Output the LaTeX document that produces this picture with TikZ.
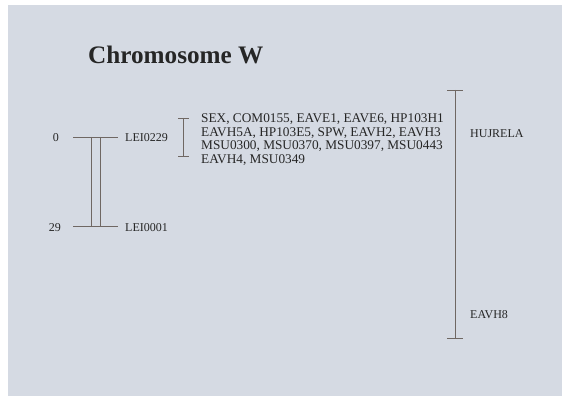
\documentclass[tikz,border=0pt]{standalone}
\usepackage{fontspec}
\setmainfont{Liberation Serif}
\definecolor{slide}{HTML}{D5DAE3}
\definecolor{mapline}{HTML}{6F6763}
\definecolor{ink}{HTML}{262626}
\newcommand*{\tick}{8}

\begin{document}
\begin{tikzpicture}
[
	x=1pt,y=-1pt,
	lbl/.style={anchor=base west,inner sep=0pt,text=ink,font=\fontsize{12}{14}\selectfont},
	cmlabel/.style={anchor=base east,inner sep=0pt,text=ink,font=\fontsize{12}{14}\selectfont},
	grplbl/.style={lbl,font=\fontsize{13.3}{15}\selectfont},
	maplink/.style={mapline,line width=0.8pt}
]

	% slide
	\useasboundingbox (0,0) rectangle (571,396);
	\fill[white] (0,0) rectangle (571,396);
	\fill[slide] (8,5) rectangle (562,396);

	% title
	\node[anchor=base west,inner sep=0pt,text=ink,font=\fontsize{25.2}{30}\selectfont\bfseries] (title) at (88,64) {Chromosome W};

	% linkage map
	\coordinate (top-l) at (73,137);
	\coordinate (top-r) at (118,137);
	\coordinate (bot-l) at (73,226);
	\coordinate (bot-r) at (118,226);
	\draw[maplink] (top-l) -- (top-r);
	\draw[maplink] (bot-l) -- (bot-r);
	\foreach \x in {91,100} {
		\draw[maplink] (\x,137) -- (\x,226);
	}
	\node[cmlabel] (p0) at (59,142) {0};
	\node[cmlabel] (p29) at (61,231) {29};
	\node[lbl] (lei0229) at (125,142) {LEI0229};
	\node[lbl] (lei0001) at (125,231) {LEI0001};

	% unlinked group
	\coordinate (grp-t) at (183,118);
	\coordinate (grp-b) at (183,156);
	\draw[maplink] (grp-t) -- (grp-b);
	\draw[maplink] ([xshift=-5]grp-t) -- ([xshift=6]grp-t);
	\draw[maplink] ([xshift=-5]grp-b) -- ([xshift=6]grp-b);
	\node[grplbl] (g1) at (201,122.5) {SEX, COM0155, EAVE1, EAVE6, HP103H1};
	\node[grplbl] (g2) at (201,136) {EAVH5A, HP103E5, SPW, EAVH2, EAVH3};
	\node[grplbl] (g3) at (201,149.5) {MSU0300, MSU0370, MSU0397, MSU0443};
	\node[grplbl] (g4) at (201,163) {EAVH4, MSU0349};

	% physical map
	\coordinate (phy-t) at (455,90);
	\coordinate (phy-b) at (455,338);
	\draw[maplink] (phy-t) -- (phy-b);
	\draw[maplink] ([xshift=-\tick]phy-t) -- ([xshift=\tick]phy-t);
	\draw[maplink] ([xshift=-\tick]phy-b) -- ([xshift=\tick]phy-b);
	\node[lbl] (hujrela) at (470,138) {HUJRELA};
	\node[lbl] (eavh8) at (470,318) {EAVH8};

\end{tikzpicture}
\end{document}
